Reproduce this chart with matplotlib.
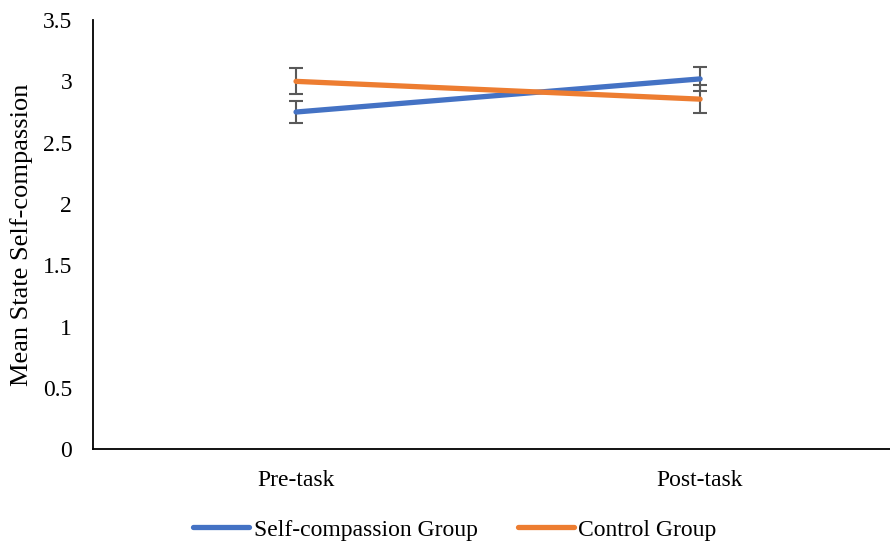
import matplotlib.pyplot as plt

plt.rcParams['font.family'] = ['Liberation Serif', 'DejaVu Serif']

# Dane
time_points = ['Pre-task', 'Post-task']
self_comp_mean = [2.75, 3.02]
self_comp_err = [0.09, 0.10]
control_mean = [3.00, 2.855]
control_err = [0.107, 0.113]

fig = plt.figure(figsize=(8.9, 5.43), dpi=100)
ax = fig.add_axes([0.1045, 0.1726, 0.8955, 0.7905])

x = list(range(len(time_points)))
ax.errorbar(x, self_comp_mean, yerr=self_comp_err, color='#4472C4', lw=3.8,
            ecolor='#595959', elinewidth=1.5, capsize=4.7, capthick=1.5,
            solid_capstyle='round', label='Self-compassion Group', zorder=3)
ax.errorbar(x, control_mean, yerr=control_err, color='#ED7D31', lw=3.8,
            ecolor='#595959', elinewidth=1.5, capsize=4.7, capthick=1.5,
            solid_capstyle='round', label='Control Group', zorder=3)

ax.set_xlim(-0.5025, 1.470)
ax.set_ylim(0, 3.5)
ax.set_yticks([0, 0.5, 1, 1.5, 2, 2.5, 3, 3.5])
ax.set_yticklabels(['0', '0.5', '1', '1.5', '2', '2.5', '3', '3.5'])
ax.set_xticks(x)
ax.set_xticklabels(time_points)
ax.tick_params(axis='y', length=0, pad=15, labelsize=17)
ax.tick_params(axis='x', length=0, pad=15, labelsize=17)

for s in ['top', 'right']:
    ax.spines[s].set_visible(False)
ax.spines['left'].set_linewidth(1.3)
ax.spines['bottom'].set_linewidth(1.3)

ax.set_ylabel('Mean State Self-compassion', fontsize=19, labelpad=7)

handles, labels = ax.get_legend_handles_labels()
handles = [h[0] for h in handles]
fig.legend(handles, labels, loc='center', bbox_to_anchor=(0.511, 0.024),
           ncol=2, frameon=False, fontsize=17, handlelength=2.37,
           handletextpad=0.2, columnspacing=1.7)

plt.savefig('out.png', dpi=100)
